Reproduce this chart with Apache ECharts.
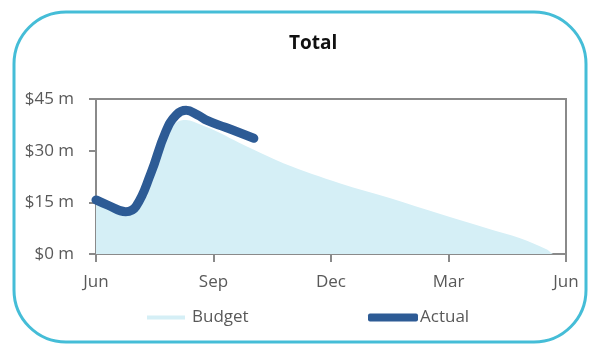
<!DOCTYPE html>
<html>
<head>
<meta charset="utf-8">
<script src="https://cdn.jsdelivr.net/npm/echarts@6/dist/echarts.min.js"></script>
<style>
  html, body { margin: 0; padding: 0; background: #fff; }
  #chart { width: 591px; height: 347px; }
</style>
</head>
<body>
<div id="chart"></div>
<script>
// x is months elapsed since the start of the June-to-June year
var tickLabels = ['Jun', 'Sep', 'Dec', 'Mar', 'Jun'];
var yTickValues = [0, 15, 30, 45];

// Budget profile, $ millions
var budgetMonths = [0, 0.3, 0.76, 1.02, 1.4, 1.78, 2.05, 2.3, 2.68, 3.1, 3.52, 3.95, 4.8, 6.24, 7.52, 8.79, 10.0, 10.83, 11.5, 11.7, 12];
var budgetValues = [15.2, 13.8, 11.9, 13.3, 22.8, 34.0, 38.2, 38.9, 37.5, 35.5, 33.1, 30.7, 26.3, 20.5, 16.2, 11.6, 7.4, 4.6, 1.4, 0, 0];

// Actual spend to date, $ millions
var actualMonths = [0, 0.3, 0.76, 1.02, 1.4, 1.78, 2.05, 2.3, 2.59, 2.85, 3.3, 4.03];
var actualValues = [15.7, 14.2, 12.3, 13.8, 23.4, 35.5, 40.4, 41.7, 40.4, 38.7, 36.8, 33.6];

function pairs(xs, ys) {
  return xs.map(function (x, i) { return [x, ys[i]]; });
}

var FONT = 'Open Sans';
var chart = echarts.init(document.getElementById('chart'), null, { renderer: 'canvas' });

chart.setOption({
  animation: false,
  backgroundColor: '#ffffff',
  title: {
    text: 'Total',
    left: 284,
    top: 29,
    textStyle: { fontFamily: FONT, fontSize: 19, fontWeight: 'bold', color: '#111111' }
  },
  graphic: [{
    type: 'rect',
    shape: { x: 14, y: 12, width: 572, height: 330, r: 52 },
    style: { fill: 'none', stroke: '#45bdd7', lineWidth: 3 },
    silent: true
  }],
  legend: [{
    data: ['Budget'],
    left: 142,
    top: 304,
    icon: 'rect',
    itemWidth: 38,
    itemHeight: 4,
    textStyle: { fontFamily: FONT, fontSize: 17, color: '#595959', padding: [0, 0, 0, 2] }
  }, {
    data: ['Actual'],
    left: 363,
    top: 304,
    icon: 'roundRect',
    itemWidth: 50,
    itemHeight: 8,
    textStyle: { fontFamily: FONT, fontSize: 17, color: '#595959', padding: [0, 0, 0, -3] }
  }],
  grid: {
    left: 96, right: 25, top: 99, bottom: 93,
    show: true,
    borderColor: '#8a8a8a',
    borderWidth: 2,
    backgroundColor: 'transparent'
  },
  xAxis: {
    type: 'value',
    min: 0, max: 12, interval: 3,
    axisLine: { show: true, lineStyle: { color: '#8a8a8a', width: 2 } },
    axisTick: { show: true, length: 8, inside: false, lineStyle: { color: '#8a8a8a', width: 2 } },
    splitLine: { show: false },
    axisLabel: {
      margin: 20,
      fontFamily: FONT, fontSize: 17, color: '#595959',
      formatter: function (v) { return tickLabels[Math.round(v / 3)]; }
    }
  },
  yAxis: {
    type: 'value',
    min: 0, max: 45, interval: 15,
    axisLine: { show: true, lineStyle: { color: '#8a8a8a', width: 2 } },
    axisTick: { show: true, length: 7, lineStyle: { color: '#8a8a8a', width: 2 } },
    splitLine: { show: false },
    axisLabel: {
      margin: 22,
      fontFamily: FONT, fontSize: 17, color: '#595959',
      formatter: function (v) { return yTickValues.indexOf(v) >= 0 ? '$' + v + ' m' : ''; }
    }
  },
  series: [{
    name: 'Budget',
    type: 'line',
    data: pairs(budgetMonths, budgetValues),
    smooth: 0.35,
    showSymbol: false,
    lineStyle: { width: 0, color: '#d5eff6' },
    itemStyle: { color: '#d5eff6' },
    areaStyle: { color: '#d5eff6', opacity: 1 },
    z: 1
  }, {
    name: 'Actual',
    type: 'line',
    data: pairs(actualMonths, actualValues),
    smooth: 0.45,
    showSymbol: false,
    lineStyle: { width: 9, color: '#2d5b95', cap: 'round', join: 'round' },
    itemStyle: { color: '#2d5b95' },
    z: 3
  }]
});
</script>
</body>
</html>
